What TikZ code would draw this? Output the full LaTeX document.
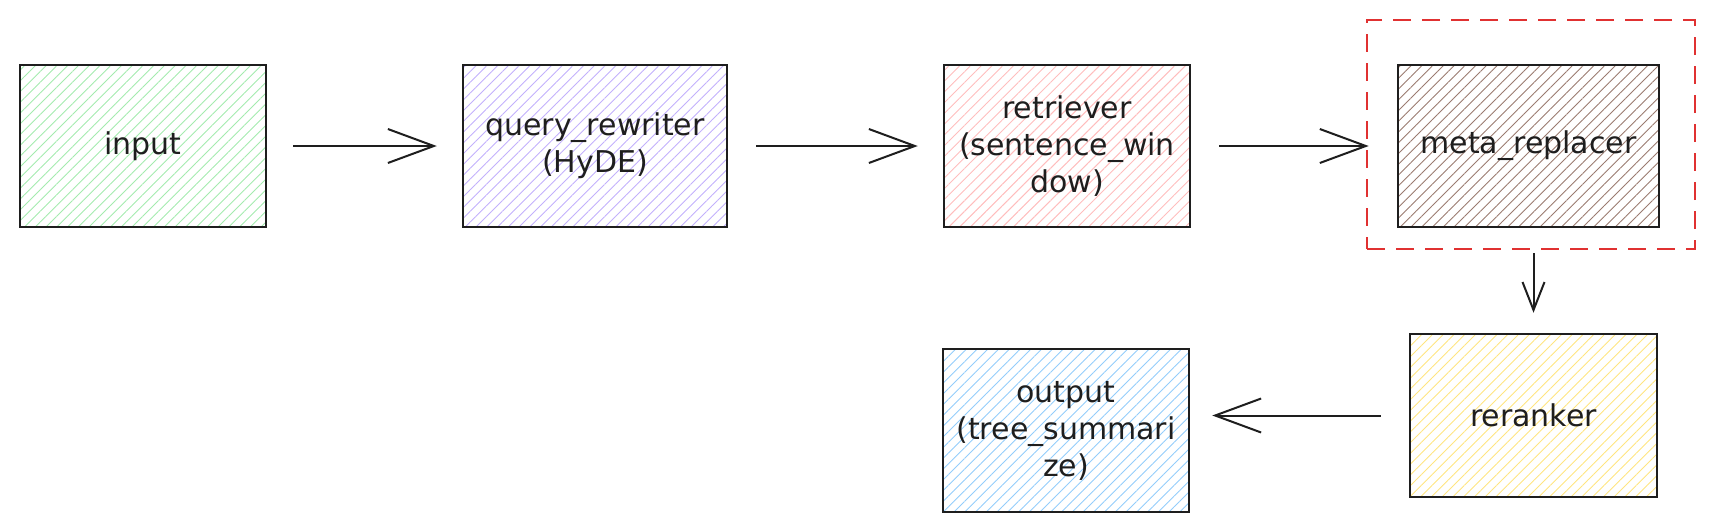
\documentclass[tikz,border=0pt]{standalone}
\usepackage{fontspec}
\setmainfont{DejaVu Sans}
\usetikzlibrary{arrows.meta,patterns.meta,positioning}
\definecolor{ink}{HTML}{1E1E1E}
\definecolor{hgreen}{HTML}{A3EBAE}
\definecolor{hviolet}{HTML}{C2B0FC}
\definecolor{hpink}{HTML}{FFBDBD}
\definecolor{hbrown}{HTML}{9A7B70}
\definecolor{hyellow}{HTML}{FFE580}
\definecolor{hblue}{HTML}{93CDFB}
\definecolor{dashred}{HTML}{E03131}
\tikzset{
  box/.style={draw=ink, line width=1.25pt, align=center, text=ink,
    font=\fontsize{15}{18.5}\selectfont, inner sep=0pt},
  hatch/.style={pattern={Lines[angle=45,distance=3.8pt,line width=0.45pt]}, pattern color=#1},
  flow/.style={draw=ink, line width=1pt, -{Straight Barb[length=23pt,width=17pt,line width=1pt]}},
  smallflow/.style={draw=ink, line width=1pt, -{Straight Barb[length=14pt,width=11pt,line width=1pt]}},
  grp/.style={draw=dashred, line width=1.3pt, dash pattern=on 9pt off 5.5pt, inner sep=0pt}
}
\begin{document}
\begin{tikzpicture}[x=0.5pt,y=-0.5pt]
\useasboundingbox (0,0) rectangle (1714,531);
\node[box, hatch=hgreen, minimum width=123pt, minimum height=81pt] (input) at (143,146) {input};
\node[box, hatch=hviolet, minimum width=132pt, minimum height=81pt] (query) at (595,146) {query\_rewriter\\(HyDE)};
\node[box, hatch=hpink, minimum width=123pt, minimum height=81pt] (retr) at (1067,146) {retriever\\(sentence\_win\\dow)};
\node[box, hatch=hbrown, minimum width=130.5pt, minimum height=81pt] (meta) at (1528.5,146) {meta\_replacer};
\node[grp, minimum width=164pt, minimum height=114.5pt] (group) at (1531,134.5) {};
\node[box, hatch=hyellow, minimum width=123.5pt, minimum height=81.5pt] (rerank) at (1533.5,415.5) {reranker};
\node[box, hatch=hblue, minimum width=123pt, minimum height=81.5pt] (out) at (1066,430.5) {output\\(tree\_summari\\ze)};
\draw[flow, shorten <=13.5pt, shorten >=12.5pt] (input.east) -- (query.west);
\draw[flow, shorten <=14pt, shorten >=12.5pt] (query.east) -- (retr.west);
\draw[flow, shorten <=14pt, shorten >=-1.5pt] (retr.east) -- (retr.east -| group.west);
\draw[smallflow, shorten <=1.5pt, shorten >=10pt] (group.south -| rerank.north) -- (rerank.north);
\draw[flow, shorten <=14pt, shorten >=11pt] (rerank.west) -- (rerank.west -| out.east);
\end{tikzpicture}
\end{document}
